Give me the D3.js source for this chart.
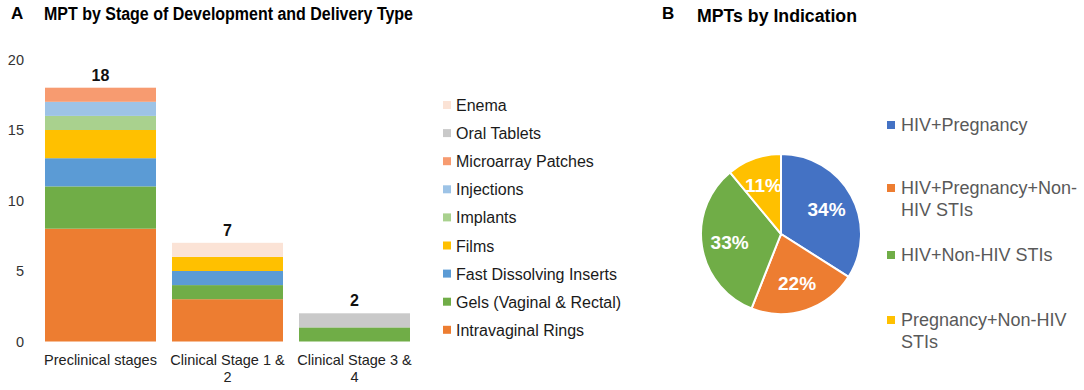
<!DOCTYPE html>
<html>
<head>
<meta charset="utf-8">
<script src="https://cdn.jsdelivr.net/npm/d3@7"></script>
<style>
  body { margin: 0; background: #fff; }
  text { font-family: Arial, "Liberation Sans", sans-serif; }
</style>
</head>
<body>
<script>
var w = 1084;
var h = 390;

// panel A data
var stages = ["Preclinical stages", "Clinical Stage 1 & 2", "Clinical Stage 3 & 4"];
var stageLines = [["Preclinical stages"], ["Clinical Stage 1 &", "2"], ["Clinical Stage 3 &", "4"]];
var deliveryTypes = ["Intravaginal Rings", "Gels (Vaginal & Rectal)", "Fast Dissolving Inserts", "Films",
    "Implants", "Injections", "Microarray Patches", "Oral Tablets", "Enema"];
var ringsValues = [8, 3, 0];
var gelsValues = [3, 1, 1];
var insertsValues = [2, 1, 0];
var filmsValues = [2, 1, 0];
var implantsValues = [1, 0, 0];
var injectionsValues = [1, 0, 0];
var patchesValues = [1, 0, 0];
var tabletsValues = [0, 0, 1];
var enemaValues = [0, 1, 0];
var deliveryColors = ["#ED7D31", "#70AD47", "#5B9BD5", "#FFC000", "#A9D18E", "#9DC3E6", "#F79B70", "#C9C9C9", "#FBE3D6"];
var yTicks = [0, 5, 10, 15, 20];

// panel B data
var indications = ["HIV+Pregnancy", "HIV+Pregnancy+Non-HIV STIs", "HIV+Non-HIV STIs", "Pregnancy+Non-HIV STIs"];
var indicationLines = [["HIV+Pregnancy"], ["HIV+Pregnancy+Non-", "HIV STIs"], ["HIV+Non-HIV STIs"], ["Pregnancy+Non-HIV", "STIs"]];
var indicationShares = [34, 22, 33, 11];
var indicationColors = ["#4472C4", "#ED7D31", "#70AD47", "#FFC000"];

var seriesValues = [ringsValues, gelsValues, insertsValues, filmsValues, implantsValues,
    injectionsValues, patchesValues, tabletsValues, enemaValues];

var svg = d3.select("body")
    .append("svg")
    .attr("width", w)
    .attr("height", h);

var drawTitles = function () {
    svg.append("text").attr("x", 11).attr("y", 19)
        .style("font-size", "17px").style("font-weight", "bold").text("A");
    svg.append("text").attr("x", 44).attr("y", 20)
        .style("font-size", "18px").style("font-weight", "bold")
        .attr("textLength", 369).attr("lengthAdjust", "spacingAndGlyphs")
        .text("MPT by Stage of Development and Delivery Type");
    svg.append("text").attr("x", 662).attr("y", 19)
        .style("font-size", "17px").style("font-weight", "bold").text("B");
    svg.append("text").attr("x", 697).attr("y", 22)
        .style("font-size", "18px").style("font-weight", "bold")
        .attr("textLength", 160).attr("lengthAdjust", "spacingAndGlyphs")
        .text("MPTs by Indication");
}

var drawBars = function () {
    var x = d3.scaleBand().domain(stages).range([37, 418]).paddingInner(0.126).paddingOuter(0.063);
    var y = d3.scaleLinear().domain([0, 20]).range([341.5, 59.5]);

    var table = stages.map((s, i) => {
        var row = { stage: s };
        deliveryTypes.forEach((t, j) => { row[t] = seriesValues[j][i]; });
        return row;
    });
    var stacked = d3.stack().keys(deliveryTypes)(table);

    svg.append("g").selectAll("g")
        .data(stacked)
        .enter()
        .append("g")
        .attr("fill", (d, i) => deliveryColors[i])
        .selectAll("rect")
        .data((d) => d)
        .enter()
        .append("rect")
        .attr("x", (d) => x(d.data.stage))
        .attr("y", (d) => y(d[1]))
        .attr("width", x.bandwidth())
        .attr("height", (d) => y(d[0]) - y(d[1]));

    // totals
    svg.append("g").selectAll("text")
        .data(table)
        .enter()
        .append("text")
        .attr("x", (d) => x(d.stage) + x.bandwidth() / 2)
        .attr("y", (d) => y(d3.sum(deliveryTypes, (t) => d[t])) - 7)
        .attr("text-anchor", "middle")
        .style("font-size", "16px").style("font-weight", "bold").style("fill", "#111")
        .text((d) => d3.sum(deliveryTypes, (t) => d[t]));

    // y axis labels, no line
    svg.append("g").selectAll("text")
        .data(yTicks)
        .enter()
        .append("text")
        .attr("x", 24)
        .attr("y", (d) => y(d) + 5)
        .attr("text-anchor", "end")
        .style("font-size", "14.5px").style("fill", "#333")
        .text((d) => d);

    // category labels
    var cats = svg.append("g").selectAll("text")
        .data(stages)
        .enter()
        .append("text")
        .attr("x", (d) => x(d) + x.bandwidth() / 2)
        .attr("y", 365)
        .attr("text-anchor", "middle")
        .style("font-size", "14.5px").style("fill", "#222");
    cats.selectAll("tspan")
        .data((d, i) => stageLines[i])
        .enter()
        .append("tspan")
        .attr("x", function () { return d3.select(this.parentNode).attr("x"); })
        .attr("dy", (d, i) => i == 0 ? 0 : 17)
        .text((d) => d);

    // legend, top item is last series
    var legend = svg.append("g").selectAll("g")
        .data(deliveryTypes.slice().reverse())
        .enter()
        .append("g")
        .attr("transform", (d, i) => "translate(443," + (105 + i * 28.1) + ")");
    legend.append("rect")
        .attr("x", 0).attr("y", -4).attr("width", 8).attr("height", 8)
        .attr("fill", (d) => deliveryColors[deliveryTypes.indexOf(d)]);
    legend.append("text")
        .attr("x", 13).attr("y", 6)
        .style("font-size", "16px").style("fill", "#1a1a1a")
        .text((d) => d);
}

var drawPie = function () {
    var cx = 781, cy = 234, r = 80;
    var pie = d3.pie().sort(null).value((d) => d);
    var arc = d3.arc().innerRadius(0).outerRadius(r);
    var labelArc = d3.arc().innerRadius(52 * 2).outerRadius(0);

    var g = svg.append("g").attr("transform", "translate(" + cx + "," + cy + ")");
    var slices = pie(indicationShares);

    g.selectAll("path")
        .data(slices)
        .enter()
        .append("path")
        .attr("d", arc)
        .attr("fill", (d, i) => indicationColors[i])
        .attr("stroke", "#fff")
        .attr("stroke-width", 2);

    g.selectAll("text")
        .data(slices)
        .enter()
        .append("text")
        .attr("transform", (d) => "translate(" + labelArc.centroid(d) + ")")
        .attr("text-anchor", "middle")
        .attr("dy", "0.36em")
        .style("font-size", "19px").style("font-weight", "bold").style("fill", "#fff")
        .text((d) => d.data + "%");

    var ys = [125, 188, 255, 320];
    var legend = svg.append("g").selectAll("g")
        .data(indications)
        .enter()
        .append("g")
        .attr("transform", (d, i) => "translate(887," + ys[i] + ")");
    legend.append("rect")
        .attr("x", 0).attr("y", -4).attr("width", 8).attr("height", 8)
        .attr("fill", (d, i) => indicationColors[i]);
    var t = legend.append("text")
        .attr("x", 14).attr("y", 6)
        .style("font-size", "18px").style("fill", "#595959");
    t.selectAll("tspan")
        .data((d, i) => indicationLines[i])
        .enter()
        .append("tspan")
        .attr("x", 14)
        .attr("dy", (d, i) => i == 0 ? 0 : 22)
        .text((d) => d);
}

drawTitles();
drawBars();
drawPie();
</script>
</body>
</html>
